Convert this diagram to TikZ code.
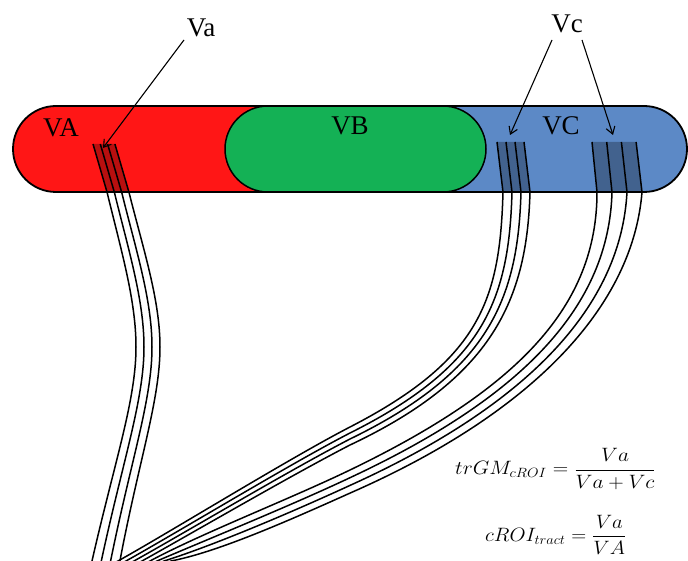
\documentclass[tikz,border=0pt]{standalone}
\usepackage{fontspec}
\setmainfont{Liberation Serif}
\usetikzlibrary{arrows.meta}
\definecolor{rA}{RGB}{255,22,22}
\definecolor{gB}{RGB}{20,177,85}
\definecolor{bC}{RGB}{92,137,198}
\begin{document}
\begin{tikzpicture}[x=1pt,y=-1pt,
  fiber/.style={line width=1.5pt, black},
  lab/.style={font=\fontsize{27}{30}\selectfont, inner sep=0pt, anchor=base},
  arr/.style={line width=1.1pt, -{Straight Barb[length=7pt,width=9pt]}},
  shadebox/.style={fill=black, fill opacity=0.28},
  eq/.style={anchor=west, inner sep=0pt, font=\fontsize{17}{20}\selectfont}]
\useasboundingbox (0,0) rectangle (688,561);
% capsule
\fill[bC, rounded corners=43pt] (13,106) rectangle (687,192);
\begin{scope}
  \clip (0,0) rectangle (356,300);
  \fill[rA, rounded corners=43pt] (13,106) rectangle (687,192);
\end{scope}
\filldraw[fill=gB, draw=black, line width=1.5pt, rounded corners=43pt] (225,106) rectangle (486,192);
\draw[line width=1.8pt, rounded corners=43pt] (13,106) rectangle (687,192);
% shaded fibre entries
\fill[shadebox] (93,144) -- (115,144) -- (129,192) -- (107,192) -- cycle;
\fill[shadebox] (497,142) -- (524,142) -- (530,192) -- (503,192) -- cycle;
\fill[shadebox] (592,142) -- (636,142) -- (642,192) -- (597,192) -- cycle;
% fibres A
\foreach \i in {0,...,3} {
  \draw[fiber] ({93+7.3*\i},144) -- ({107+7.3*\i},192)
    .. controls ({121+7.5*\i},250) and ({136+8*\i},300) .. ({136+8*\i},347)
    .. controls ({136+8*\i},400) and ({115+8*\i},460) .. ({92+9.3*\i},561) -- ++(-3.5,15);
}
% fibres C1
\foreach \i in {0,...,3} {
  \draw[fiber] ({497+9*\i},142) -- ({503+9*\i},192)
    .. controls ({500+9*\i},300) and ({480+4*\i},{360+6*\i}) .. (350,{427+6*\i})
    .. controls (290,{458+6*\i}) and ({170+8*\i},532) .. ({118+8*\i},561) -- ++(-25,14);
}
% fibres C2
\foreach \i in {0,...,3} {
  \draw[fiber] ({592+14.7*\i},142) -- ({597+15*\i},192)
    .. controls ({597+12*\i},305) and ({520+5*\i},{388+8*\i}) .. (350,{470+7.7*\i})
    .. controls (290,{499+7*\i}) and ({200+6*\i},{534+6*\i}) .. ({150+7*\i},561) -- ++(-24,12);
}
% labels
\node[lab] (lVA) at (61,137) {VA};
\node[lab] (lVB) at (350,135) {VB};
\node[lab] (lVC) at (561,135) {VC};
\node[lab] (lVa) at (201,37) {Va};
\node[lab] (lVc) at (567,33) {Vc};
% arrows
\coordinate (aVaS) at (184,40);
\coordinate (aVaE) at (103,148);
\coordinate (aVc1S) at (552,40);
\coordinate (aVc1E) at (510,135);
\coordinate (aVc2S) at (582,40);
\coordinate (aVc2E) at (613,135);
\draw[arr] (aVaS) -- (aVaE);
\draw[arr] (aVc1S) -- (aVc1E);
\draw[arr] (aVc2S) -- (aVc2E);
% equations
\node[eq] (eq1) at (455,469) {\scalebox{1.24}[1.12]{$trGM_{cROI} = \displaystyle\frac{Va}{Va+Vc}$}};
\node[eq] (eq2) at (485,535) {\scalebox{1.2}[1.12]{$cROI_{tract} = \displaystyle\frac{Va}{VA}$}};
\end{tikzpicture}
\end{document}
